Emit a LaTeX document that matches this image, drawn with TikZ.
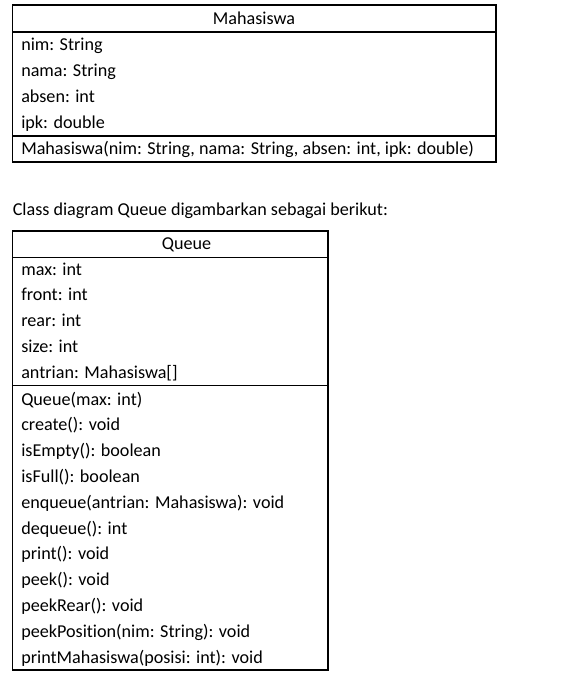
\documentclass[tikz,border=0pt]{standalone}
\usepackage{fontspec}
\setmainfont[Ligatures=NoCommon]{Carlito}
\begin{document}
\begin{tikzpicture}[x=0.75pt,y=-0.75pt,
  box/.style={draw,line width=0.8pt},
  member/.style={anchor=base west,inner sep=0pt,font=\fontsize{13.6}{16}\selectfont},
  title/.style={anchor=base,inner sep=0pt,font=\fontsize{13.6}{16}\selectfont}]
  \useasboundingbox (0,0) rectangle (566,687);
  % class Mahasiswa
  \draw[box] (12.5,5) rectangle (496,162);
  \draw[box] (12.5,32) -- (496,32);
  \draw[box] (12.5,136) -- (496,136);
  \node[title] (mhsName) at (254,24) {Mahasiswa};
  \foreach \txt [count=\i] in {nim: String, nama: String, absen: int, ipk: double}
    \node[member] (mhsAttr\i) at (21,{50.5+25.85*(\i-1)}) {\txt};
  \node[member] (mhsOp1) at (21,154.5) {Mahasiswa(nim: String, nama: String, absen: int, ipk: double)};
  % caption
  \node[member] (caption) at (12.5,215) {Class diagram Queue digambarkan sebagai berikut:};
  % class Queue
  \draw[box] (12.5,231) rectangle (328,670);
  \draw[box] (12.5,257.5) -- (328,257.5);
  \draw[box] (12.5,385.7) -- (328,385.7);
  \node[title] (queName) at (186.5,249) {Queue};
  \foreach \txt [count=\i] in {max: int, front: int, rear: int, size: int, {antrian: Mahasiswa[]}}
    \node[member] (queAttr\i) at (21,{275+25.9*(\i-1)}) {\txt};
  \foreach \txt [count=\i] in {Queue(max: int), create(): void, isEmpty(): boolean,
      isFull(): boolean, enqueue(antrian: Mahasiswa): void, dequeue(): int,
      print(): void, peek(): void, peekRear(): void,
      peekPosition(nim: String): void, printMahasiswa(posisi: int): void}
    \node[member] (queOp\i) at (21,{405+25.8*(\i-1)}) {\txt};
\end{tikzpicture}
\end{document}
